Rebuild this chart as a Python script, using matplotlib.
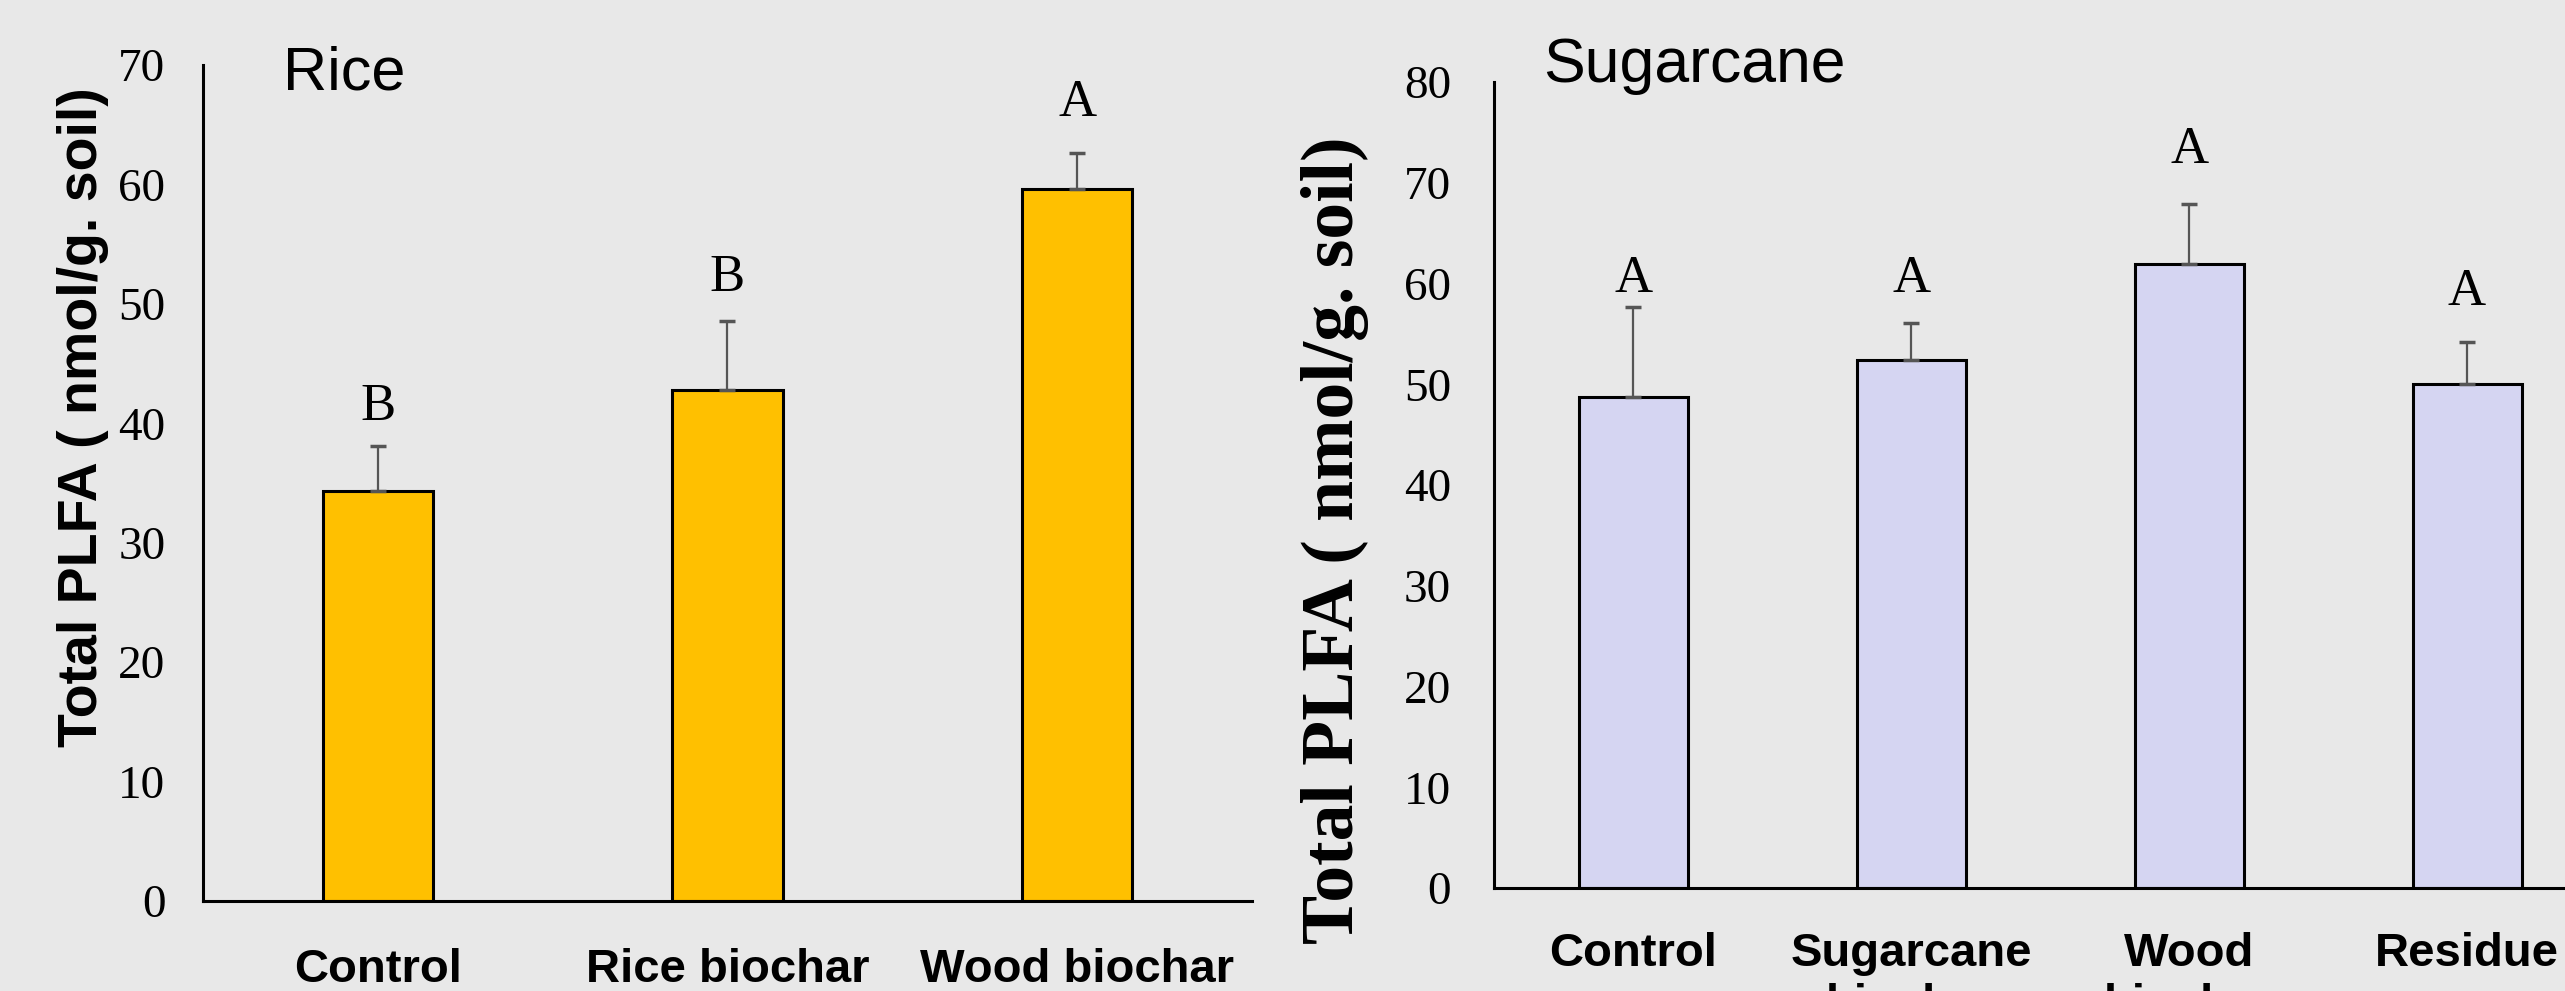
import matplotlib
matplotlib.use("Agg")
import matplotlib.pyplot as plt

# Rice experiment
rice_labels = ["Control", "Rice biochar", "Wood biochar"]
rice_plfa = [34.3, 42.8, 59.6]
rice_err = [3.8, 5.8, 3.0]
rice_letters = ["B", "B", "A"]
rice_letter_y = [41.4, 52.2, 66.8]

# Sugarcane experiment
cane_labels = ["Control", "Sugarcane\nbiochar", "Wood\nbiochar", "Residue"]
cane_plfa = [48.7, 52.4, 61.9, 50.0]
cane_err = [9.0, 3.7, 6.0, 4.2]
cane_letters = ["A", "A", "A", "A"]
cane_letter_y = [60.5, 60.5, 73.3, 59.2]

SANS = "Liberation Sans"
SERIF = "Liberation Serif"
BG = "#e8e8e8"


def draw_panel(ax, labels, values, errs, letters, letter_y, color, width,
               ymax, ytick_pad, xtick_pad):
    x = list(range(len(values)))
    ax.bar(x, values, width=width, color=color, edgecolor="black",
           linewidth=2.2, zorder=2)
    ax.errorbar(x, values, yerr=[[0] * len(errs), errs], fmt="none",
                ecolor="#555555", elinewidth=1.6, capsize=5.5, capthick=2.5,
                zorder=3)
    for xi, t, ty in zip(x, letters, letter_y):
        ax.text(xi, ty, t, ha="center", va="center", fontsize=38,
                family=SERIF)

    ax.set_xlim(-0.5, len(values) - 0.5)
    ax.set_ylim(0, ymax)
    ax.set_yticks(range(0, ymax + 1, 10))
    ax.set_xticks(x)
    ax.set_xticklabels(labels, fontsize=34, fontweight="bold", family=SANS)
    for lab in ax.get_yticklabels():
        lab.set_family(SERIF)
        lab.set_fontsize(34)
    ax.tick_params(axis="y", length=0, pad=ytick_pad)
    ax.tick_params(axis="x", length=0, pad=xtick_pad)

    ax.set_facecolor("none")
    for side in ["top", "right"]:
        ax.spines[side].set_visible(False)
    for side in ["left", "bottom"]:
        ax.spines[side].set_linewidth(2.2)
        ax.spines[side].set_color("black")


fig = plt.figure(figsize=(25.65, 9.91), dpi=100, facecolor=BG)

ax1 = fig.add_axes([0.0791, 0.0908, 0.4090, 0.8436])
draw_panel(ax1, rice_labels, rice_plfa, rice_err, rice_letters, rice_letter_y,
           "#ffc000", 0.315, 70, 27, 34)

ax2 = fig.add_axes([0.5825, 0.1039, 0.4335, 0.8133])
draw_panel(ax2, cane_labels, cane_plfa, cane_err, cane_letters, cane_letter_y,
           "#d5d5f2", 0.392, 80, 31, 32)

# panel titles
fig.text(0.1103, 0.925, "Rice", fontsize=44, family=SANS, va="center")
fig.text(0.6016, 0.934, "Sugarcane", fontsize=45, family=SANS, va="center")

# y axis titles
fig.text(0.0325, 0.579, "Total PLFA ( nmol/g. soil)", rotation=90,
         fontsize=40, fontweight="bold", family=SANS, ha="center", va="center")
fig.text(0.5205, 0.455, "Total PLFA ( nmol/g. soil)", rotation=90,
         fontsize=53, fontweight="bold", family=SERIF, ha="center",
         va="center")

fig.savefig("out.png", dpi=100, facecolor=BG)
